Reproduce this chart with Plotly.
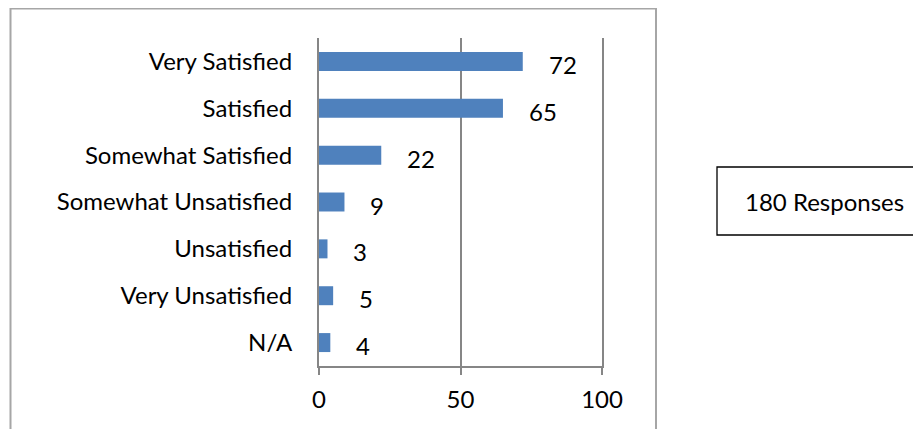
import plotly.graph_objects as go

categories = ["Very Satisfied", "Satisfied", "Somewhat Satisfied", "Somewhat Unsatisfied",
              "Unsatisfied", "Very Unsatisfied", "N/A"]
values = [72, 65, 22, 9, 3, 5, 4]
x_ticks = [0, 50, 100]
note_text = "180 Responses"

OFF = 8  # page body margin
W, H = 921 - OFF, 429 - OFF
L, R, T, B = 319 - OFF, 602 - OFF, 38 - OFF, 366 - OFF  # plot area in figure pixels


def px(x):
    return (x - OFF - L) / (R - L)


def py(y):
    return (B - (y - OFF)) / (B - T)


FONT = "Lato"
FS = 24
GRID = "#868686"

fig = go.Figure()
fig.add_trace(go.Bar(
    x=values, y=categories, orientation="h",
    marker=dict(color="#4F81BD", line=dict(width=0)),
    width=0.405, hoverinfo="skip",
))

for c, v in zip(categories, values):
    fig.add_annotation(x=v, y=c, xref="x", yref="y", text=str(v), showarrow=False,
                       xanchor="left", yanchor="middle", xshift=24, yshift=-3,
                       font=dict(family=FONT, size=FS, color="#000000"))

# outer chart border
fig.add_shape(type="rect", xref="paper", yref="paper",
              x0=px(10.5), x1=px(656), y0=py(8.5), y1=py(445),
              line=dict(color="#A6A6A6", width=2), fillcolor="rgba(0,0,0,0)", layer="below")
# text box (right side runs off the page)
bx0, bx1, by0, by1 = px(717), px(940), py(167), py(235)
fig.add_shape(type="path", xref="paper", yref="paper",
              path=f"M {bx1},{by0} L {bx0},{by0} L {bx0},{by1} L {bx1},{by1}",
              line=dict(color="#000000", width=1.3))
fig.add_annotation(xref="paper", yref="paper", x=px(824), y=py(201), text=note_text,
                   showarrow=False, xanchor="center", yanchor="middle",
                   font=dict(family=FONT, size=FS, color="#000000"))

fig.update_layout(
    width=W, height=H,
    margin=dict(l=L, r=W - R, t=T, b=H - B, autoexpand=False),
    paper_bgcolor="white", plot_bgcolor="white",
    showlegend=False,
    font=dict(family=FONT, size=FS, color="#000000"),
)
fig.update_xaxes(range=[0, 100], tickvals=x_ticks, ticktext=[str(t) for t in x_ticks],
                 showgrid=True, gridcolor=GRID, gridwidth=2, zeroline=False,
                 showline=True, linecolor=GRID, linewidth=2,
                 ticks="outside", ticklen=7, tickcolor=GRID, tickwidth=2,
                 ticklabelstandoff=4,
                 tickfont=dict(family=FONT, size=FS, color="#000000"), fixedrange=True)
fig.update_yaxes(categoryorder="array", categoryarray=categories, autorange="reversed",
                 showgrid=False, zeroline=False,
                 showline=True, linecolor=GRID, linewidth=2, mirror=True,
                 ticks="", ticklabelstandoff=20,
                 tickfont=dict(family=FONT, size=FS, color="#000000"), fixedrange=True)

fig.write_html("out.html", config={"displayModeBar": False})
